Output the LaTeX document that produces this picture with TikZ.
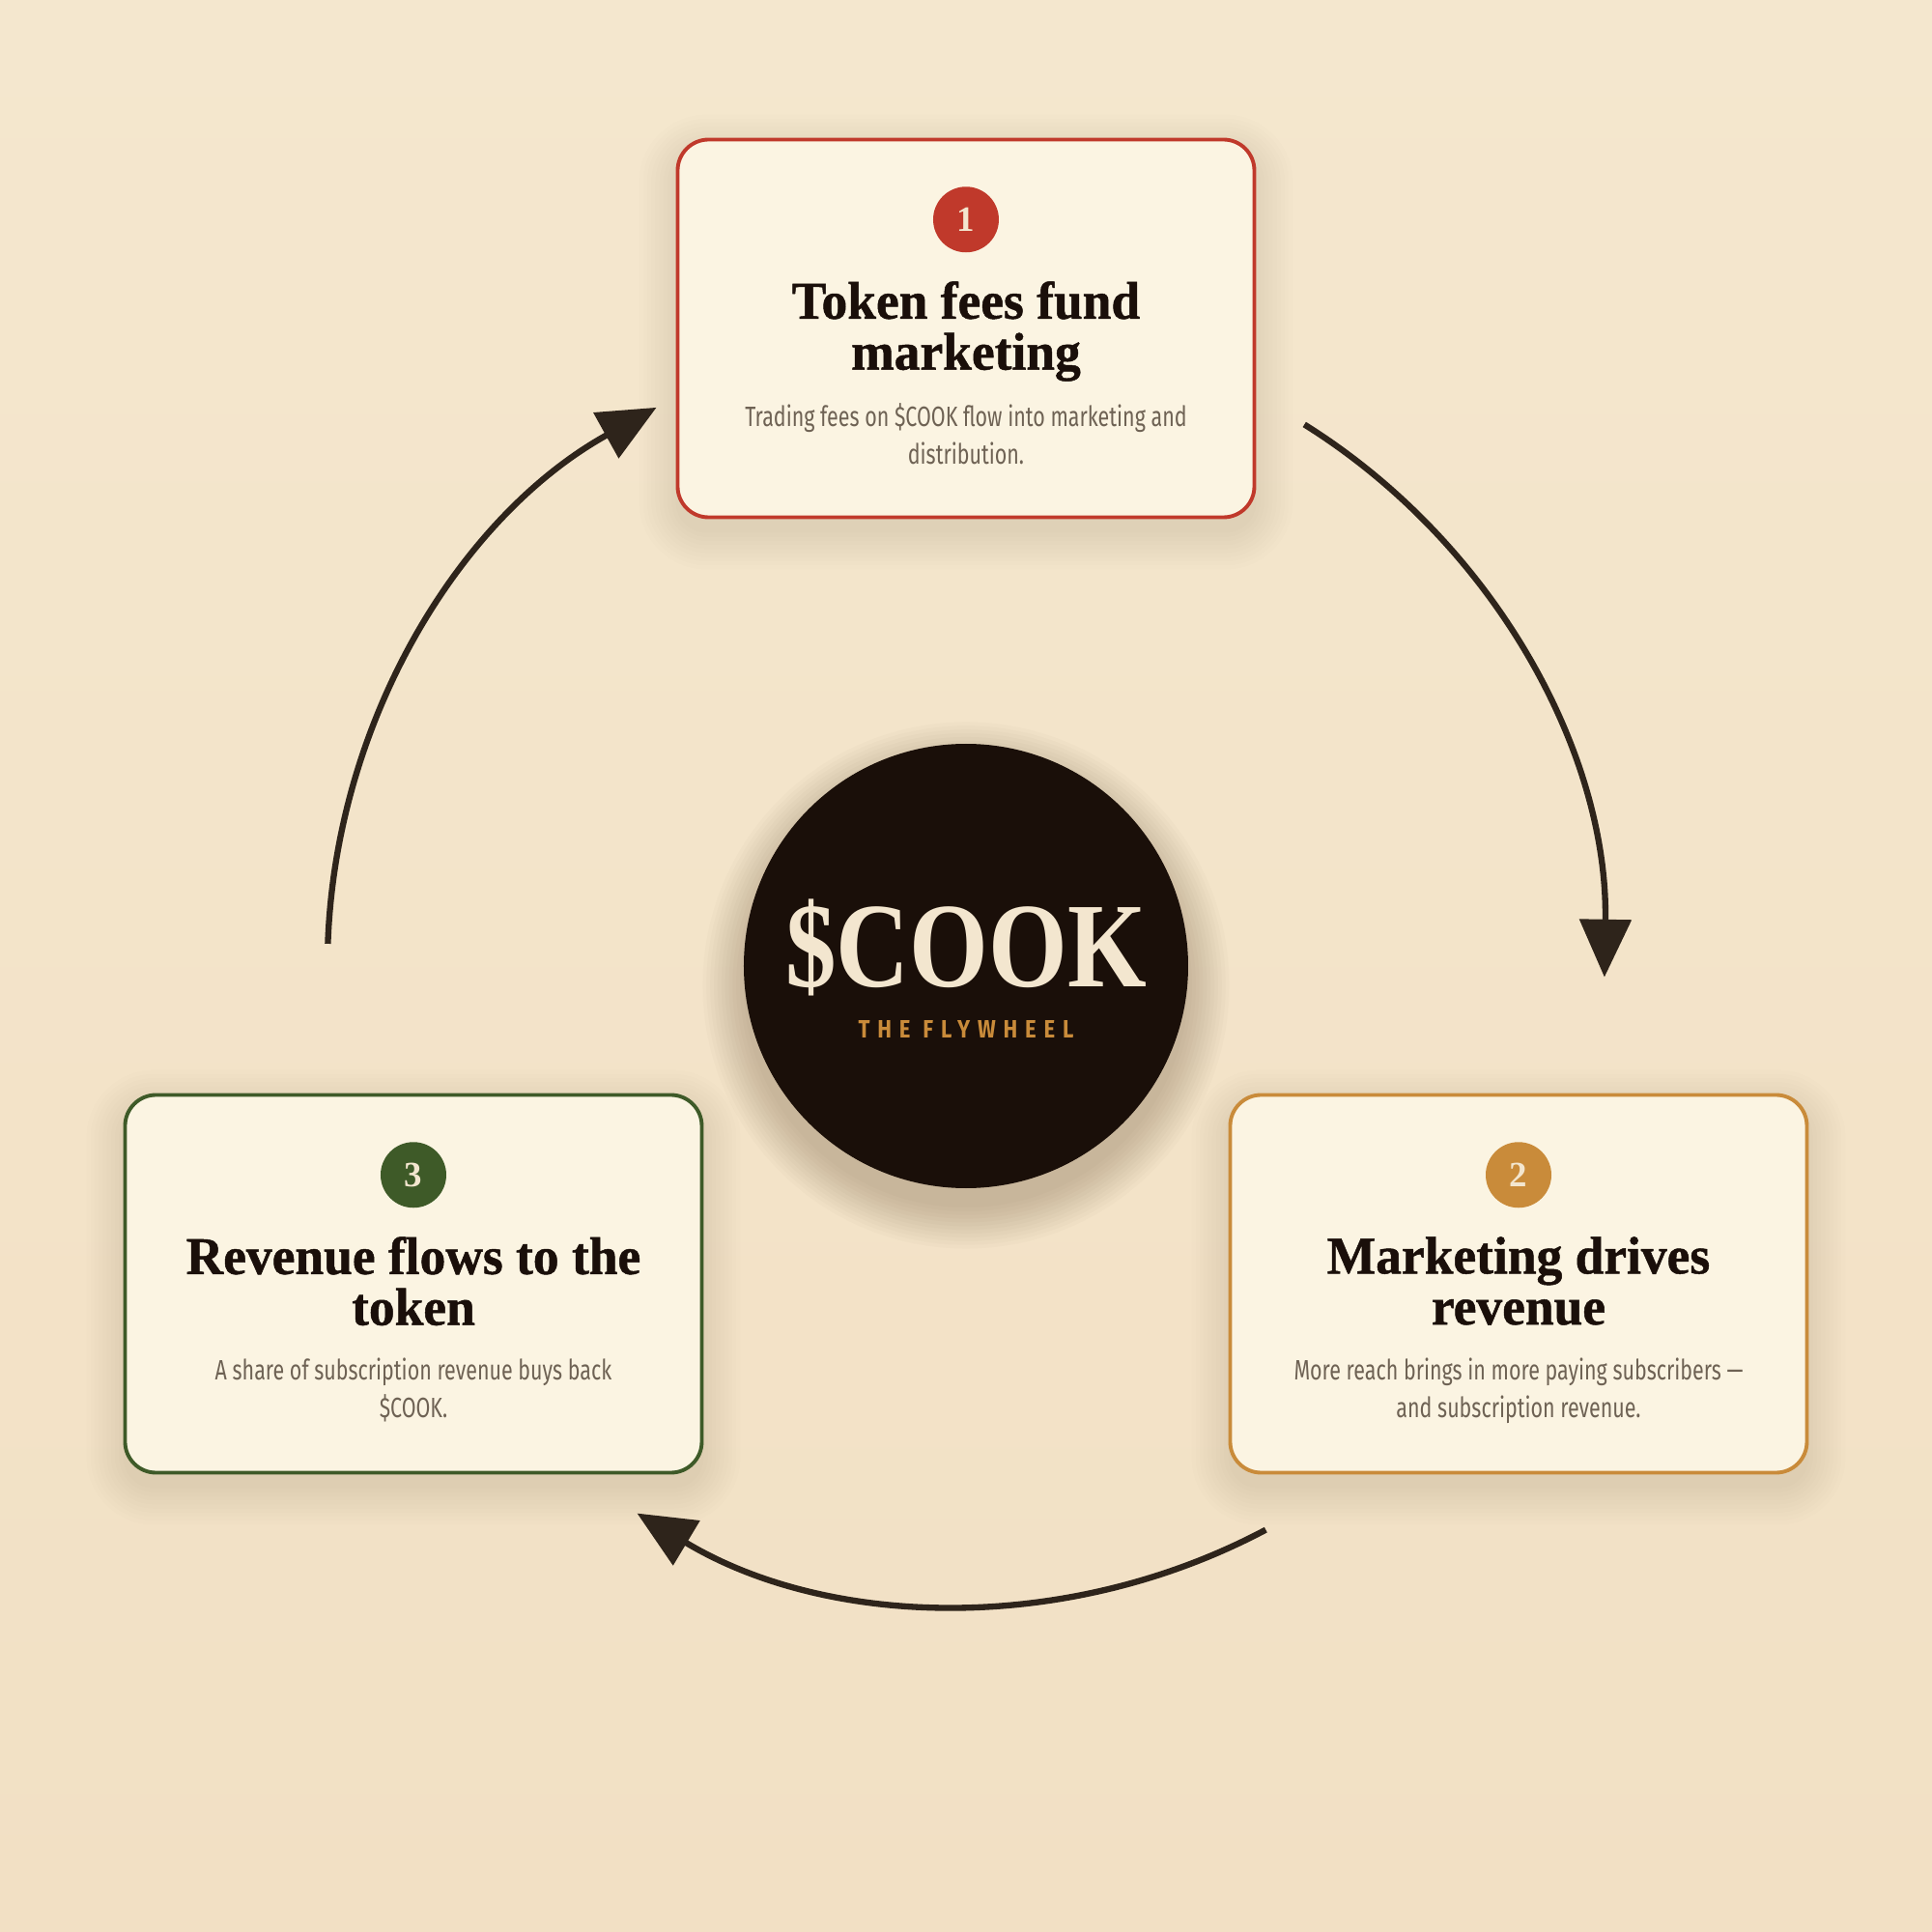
\documentclass[tikz,border=0pt]{standalone}
\usepackage{fontspec}
\setmainfont{Liberation Serif}
\newfontfamily\titlefont[FakeStretch=0.975,FakeBold=0.9]{Liberation Serif}
\newfontfamily\coinfont[FakeStretch=0.84]{Liberation Serif}
\newfontfamily\descfont[FakeStretch=0.74]{Fira Sans}
\newfontfamily\tagfont[FakeStretch=0.85,LetterSpace=30]{Fira Sans}
\usetikzlibrary{positioning, arrows.meta, calc}

\pgfdeclarelayer{paper}
\pgfdeclarelayer{shadow}
\pgfsetlayers{paper,shadow,main}

\definecolor{bgtop}{HTML}{F4E7CE}
\definecolor{bgbot}{HTML}{F2E0C4}
\definecolor{cardfill}{HTML}{FBF4E2}
\definecolor{redstep}{HTML}{C0392B}
\definecolor{goldstep}{HTML}{C98B3A}
\definecolor{greenstep}{HTML}{3E5A28}
\definecolor{ink}{HTML}{1A0F0A}
\definecolor{coinfill}{HTML}{1A0F09}
\definecolor{coincream}{HTML}{F3E6CF}
\definecolor{desctext}{HTML}{6E6254}
\definecolor{arrowink}{HTML}{2E241B}
\definecolor{shadowink}{HTML}{5A4026}

\tikzset{
  card/.style={draw, line width=1.1pt, fill=cardfill, rounded corners=0.32cm,
    minimum width=5.97cm, minimum height=3.91cm},
  badge/.style={circle, minimum size=0.68cm, inner sep=0pt, text=coincream,
    font=\bfseries\fontsize{10.5}{10.5}\selectfont},
  cardtitle/.style={inner sep=0pt, align=center, text=ink,
    font=\titlefont\bfseries\fontsize{15.6}{15}\selectfont},
  carddesc/.style={inner sep=0pt, align=center, text=desctext,
    font=\descfont\fontsize{8.25}{11.1}\selectfont},
  flow/.style={arrowink, line width=1.8pt, -{Triangle[length=17pt, width=15pt]}},
  softshade/.style={fill=shadowink, opacity=#1},
  softshade/.default=0.012
}

\begin{document}
\begin{tikzpicture}
  \begin{pgfonlayer}{paper}
    \shade[top color=bgtop, bottom color=bgbot] (-10,-10) rectangle (10,10);
  \end{pgfonlayer}
  \useasboundingbox (-10,-10) rectangle (10,10);

  % centre coin
  \node (coin) [circle, fill=coinfill, minimum size=4.6cm] at (0,0) {};
  \node (cointitle) [anchor=base, inner sep=0pt, text=coincream,
    font=\coinfont\bfseries\fontsize{35.6}{36}\selectfont] at (0,-0.21) {\$COOK};
  \node (cointag) [anchor=base, inner sep=0pt, text=goldstep,
    font=\tagfont\bfseries\fontsize{7.4}{8}\selectfont] at (0,-0.74) {THE FLYWHEEL};

  % step 1
  \node (tokencard) [card, draw=redstep] at (0,6.6) {};
  \node (tokenbadge) [badge, fill=redstep, below=0.5 of tokencard.north] {1};
  \node (tokentitle) [cardtitle, below=1.48 of tokencard.north]
    {Token fees fund\\marketing};
  \node (tokendesc) [carddesc, below=2.74 of tokencard.north]
    {Trading fees on \$COOK flow into marketing and\\distribution.};

  % step 2
  \node (marketcard) [card, draw=goldstep] at (5.72,-3.29) {};
  \node (marketbadge) [badge, fill=goldstep, below=0.5 of marketcard.north] {2};
  \node (markettitle) [cardtitle, below=1.48 of marketcard.north]
    {Marketing drives\\revenue};
  \node (marketdesc) [carddesc, below=2.74 of marketcard.north]
    {More reach brings in more paying subscribers —\\and subscription revenue.};

  % step 3
  \node (revenuecard) [card, draw=greenstep] at (-5.72,-3.29) {};
  \node (revenuebadge) [badge, fill=greenstep, below=0.5 of revenuecard.north] {3};
  \node (revenuetitle) [cardtitle, below=1.48 of revenuecard.north]
    {Revenue flows to the\\token};
  \node (revenuedesc) [carddesc, below=2.74 of revenuecard.north]
    {A share of subscription revenue buys back\\\$COOK.};

  % soft shadows
  \begin{pgfonlayer}{shadow}
    \foreach \s in {0,...,11} {
      \fill[softshade=0.024] ($(coin.center)+(0,-0.2)$) circle ({2.3cm+\s*1.1pt});
    }
    \foreach \card in {tokencard, marketcard, revenuecard} {
      \foreach \s in {0,...,9} {
        \fill[softshade, rounded corners={0.32cm+\s*1.2pt}]
          ($(\card.south west)+(-\s*1.2pt,-\s*1.2pt-4pt)$) rectangle
          ($(\card.north east)+(\s*1.2pt,\s*1.2pt-4pt)$);
      }
    }
  \end{pgfonlayer}

  % Draw arrows
  \draw[flow] (coin.center) ++(58:6.61) arc[start angle=58, end angle=-1, radius=6.61];
  \draw[flow] (coin.center) ++(-62:6.61) arc[start angle=-62, end angle=-121, radius=6.61];
  \draw[flow] (coin.center) ++(178:6.61) arc[start angle=178, end angle=119, radius=6.61];
\end{tikzpicture}
\end{document}
